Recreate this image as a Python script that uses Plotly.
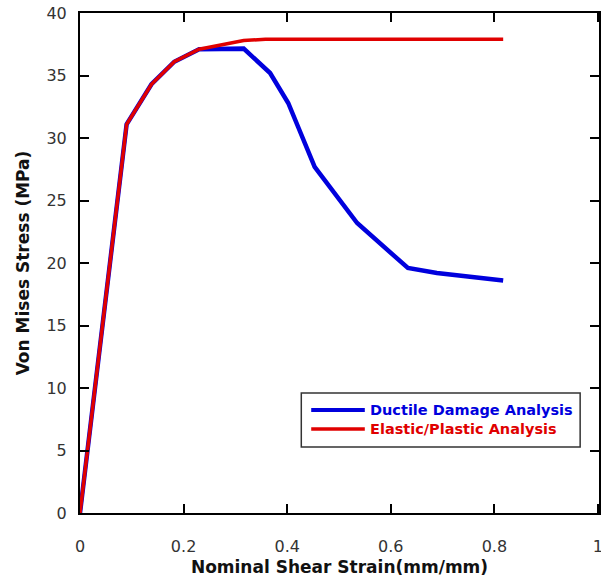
import plotly.graph_objects as go

# Nominal shear strain (mm/mm) and von Mises stress (MPa)
ductile_strain = [0.0, 0.035, 0.090, 0.138, 0.182, 0.230, 0.316, 0.367, 0.402, 0.421,
                  0.453, 0.535, 0.633, 0.689, 0.817]
ductile_stress = [0.0, 12.3, 31.1, 34.3, 36.1, 37.1, 37.15, 35.2, 32.8, 30.9,
                  27.7, 23.2, 19.6, 19.2, 18.6]

elastic_strain = [0.0, 0.035, 0.090, 0.138, 0.182, 0.230, 0.316, 0.358, 0.817]
elastic_stress = [0.0, 12.3, 31.1, 34.3, 36.1, 37.1, 37.8, 37.9, 37.9]

series_names = ["Ductile Damage Analysis", "Elastic/Plastic Analysis"]
series_colors = ["#0000dd", "#e00000"]

x_ticks = [0, 0.2, 0.4, 0.6, 0.8, 1.0]
x_tick_text = ["0", "0.2", "0.4", "0.6", "0.8", "1"]
y_ticks = [0, 5, 10, 15, 20, 25, 30, 35, 40]

# Figure geometry: the frame's right edge runs just past the visible page
FIG_W, FIG_H = 606, 580
L, R, T, B = 80, 3, 13, 67
PW, PH = FIG_W - L - R, FIG_H - T - B

fig = go.Figure()
fig.add_trace(go.Scatter(x=ductile_strain, y=ductile_stress, mode="lines",
                         name=series_names[0],
                         line=dict(color=series_colors[0], width=4.5)))
fig.add_trace(go.Scatter(x=elastic_strain, y=elastic_stress, mode="lines",
                         name=series_names[1],
                         line=dict(color=series_colors[1], width=3.5)))

tick_font = dict(family="DejaVu Sans", size=16, color="#333333")
title_font = dict(family="DejaVu Sans", size=17, color="#111111")

fig.update_layout(
    width=FIG_W, height=FIG_H,
    margin=dict(l=L, r=R, t=T, b=B),
    plot_bgcolor="white", paper_bgcolor="white",
    showlegend=False,
    xaxis=dict(range=[0, 1.002], tickvals=x_ticks, ticktext=x_tick_text,
               ticks="inside", ticklen=9, tickwidth=2, tickcolor="black",
               showline=True, linewidth=2, linecolor="black", mirror="ticks",
               showgrid=False, zeroline=False, tickfont=tick_font,
               ticklabelstandoff=18, ticklabeloverflow="allow",
               title=dict(text="<b>Nominal Shear Strain(mm/mm)</b>", font=title_font,
                          standoff=6)),
    yaxis=dict(range=[0, 40], tickvals=y_ticks,
               ticks="inside", ticklen=9, tickwidth=2, tickcolor="black",
               showline=True, linewidth=2, linecolor="black", mirror="ticks",
               showgrid=False, zeroline=False, tickfont=tick_font,
               ticklabelstandoff=8,
               title=dict(text="<b>Von Mises Stress (MPa)</b>", font=title_font,
                          standoff=12)),
)


def fx(x):
    """Page pixel x -> paper fraction of the plot area."""
    return (x - L) / PW


def fy(y):
    """Page pixel y -> paper fraction of the plot area."""
    return (T + PH - y) / PH


# Boxed legend in the lower right of the plot area
fig.add_shape(type="rect", xref="paper", yref="paper",
              x0=fx(303), x1=fx(584), y0=fy(447), y1=fy(393),
              line=dict(color="#333333", width=1.5), fillcolor="white")
for i, (name, color) in enumerate(zip(series_names, series_colors)):
    yp = fy(410 + 19 * i)
    fig.add_shape(type="line", xref="paper", yref="paper",
                  x0=fx(313), x1=fx(367), y0=yp, y1=yp,
                  line=dict(color=color, width=4 if i == 0 else 3.5))
    fig.add_annotation(xref="paper", yref="paper", x=fx(370), y=yp,
                       xanchor="left", yanchor="middle", showarrow=False,
                       text=f"<b>{name}</b>",
                       font=dict(family="DejaVu Sans", size=14.5, color=color))

fig.write_html(
    "out.html",
    post_script="document.documentElement.style.overflow='hidden';"
                "document.body.style.overflow='hidden';",
)
